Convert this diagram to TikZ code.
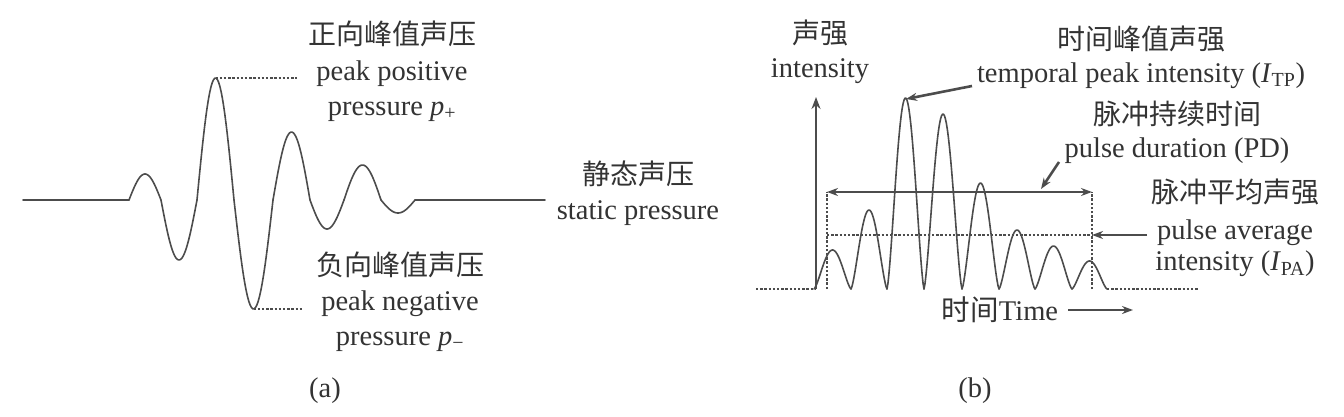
\documentclass[tikz,border=0pt]{standalone}
\usepackage{fontspec}
\setmainfont{Liberation Serif}
\newfontfamily\cjk{Noto Sans CJK SC}
\usetikzlibrary{arrows.meta, positioning}
\definecolor{ink}{gray}{0.2}
\definecolor{trace}{gray}{0.3}
\tikzset{
  en/.style={inner sep=0pt, text height=20pt, text depth=6pt, text=ink,
             font=\fontsize{28.5}{30}\selectfont},
  zh/.style={en, font=\cjk\fontsize{28}{30}\selectfont},
  wave/.style={draw=trace, line width=1.6pt, line join=round, line cap=round},
  lead/.style={draw=trace, line width=1.7pt, dash pattern=on 2.4pt off 1.8pt},
  yaxis/.style={draw=trace, line width=2.8pt, -{Stealth[length=12pt, width=9pt]}},
  ptr/.style={draw=trace, line width=2.6pt, -{Stealth[length=11pt, width=8pt]}},
  spanarr/.style={ptr, {Stealth[length=11pt, width=8pt]}-{Stealth[length=11pt, width=8pt]}},
}

\begin{document}
\begin{tikzpicture}[x=1pt, y=-1pt, node distance=9pt]

  \useasboundingbox (0,0) rectangle (1344,417);

  % (a) pressure waveform
  \coordinate (aleft) at (23,200);
  \coordinate (astart) at (129,200);
  \coordinate (aend) at (415,200);
  \coordinate (aright) at (545,200);
  \draw[wave] (aleft) -- (astart);
  \foreach \xa/\xb/\amp in {129/161/26, 161/197/-60, 197/234/122, 234/273/-109,
                            273/310/68, 310/344/-29, 344/381/35, 381/415/-13}
    \draw[wave] plot[domain=0:180, samples=30]
      ({\xa+(\xb-\xa)*\x/180}, {200-\amp*sin(\x)});
  \draw[wave] (aend) -- (aright);

  \coordinate (ppk) at (215.5,78);
  \coordinate (ppkend) at (297,78);
  \coordinate (npk) at (253.5,309);
  \coordinate (npkend) at (302,309);
  \draw[lead] (ppk) -- (ppkend);
  \draw[lead] (npk) -- (npkend);

  \node[zh] (pos1) at (392,38) {正向峰值声压};
  \node[en, below=of pos1] (pos2) {peak positive};
  \node[en, below=of pos2] (pos3) {pressure \textit{p}\textsubscript{+}};

  \node[zh] (neg1) at (400,268) {负向峰值声压};
  \node[en, below=of neg1] (neg2) {peak negative};
  \node[en, below=of neg2] (neg3) {pressure \textit{p}\textsubscript{−}};

  \node[zh] (stat1) at (638,178) {静态声压};
  \node[en, below=8pt of stat1] (stat2) {static pressure};

  \node[en] (capa) at (325,390) {(a)};

  % (b) intensity pulse
  \coordinate (orig) at (816,289);
  \coordinate (ytop) at (816,97);
  \coordinate (bleft) at (756,289);
  \coordinate (bend) at (1107,289);
  \coordinate (bright) at (1198,289);
  \draw[lead] (bleft) -- (orig);
  \draw[lead] (bend) -- (bright);
  \foreach \xa/\xb/\amp in {814/851/39, 851/887/79, 887/924/191, 924/962/175,
                            962/999/106, 999/1035/59, 1035/1072/43, 1072/1107/28}
    \draw[wave] plot[domain=0:180, samples=40]
      ({\xa+(\xb-\xa)*\x/180}, {289-\amp*pow(abs(sin(\x)),1.4)});
  \draw[yaxis] (orig) -- (ytop);

  \coordinate (pdl) at (827,192);
  \coordinate (pdr) at (1092,192);
  \coordinate (pal) at (827,235);
  \coordinate (par) at (1092,235);
  \draw[lead] (827,289) -- (pdl);
  \draw[lead] (1092,289) -- (pdr);
  \draw[lead] (pal) -- (par);
  \draw[spanarr] (pdl) -- (pdr);

  \node[zh] (int1) at (820,37) {声强};
  \node[en, below=7pt of int1] (int2) {intensity};

  \node[zh] (tp1) at (1141,43) {时间峰值声强};
  \node[en, below=6pt of tp1] (tp2) {temporal peak intensity (\textit{I}\textsubscript{TP})};

  \node[zh] (pd1) at (1177,118) {脉冲持续时间};
  \node[en, below=6pt of pd1] (pd2) {pulse duration (PD)};

  \node[zh] (pa1) at (1235,195) {脉冲平均声强};
  \node[en, below=11pt of pa1] (pa2) {pulse average};
  \node[en, below=5pt of pa2] (pa3) {intensity (\textit{I}\textsubscript{PA})};

  \coordinate (tpk) at (906,99);
  \coordinate (tpfrom) at (972,86);
  \coordinate (pdfrom) at (1059,162);
  \coordinate (pdto) at (1041,189);
  \coordinate (pafrom) at (1147,235);
  \draw[ptr] (tpfrom) -- (tpk);
  \draw[ptr] (pdfrom) -- (pdto);
  \draw[ptr] (pafrom) -- (par);

  \node[en] (tm) at (1000,313) {{\cjk 时间}Time};
  \coordinate (tma) at (1068,310);
  \coordinate (tmb) at (1133,310);
  \draw[ptr] (tma) -- (tmb);

  \node[en] (capb) at (975,390) {(b)};

\end{tikzpicture}
\end{document}
